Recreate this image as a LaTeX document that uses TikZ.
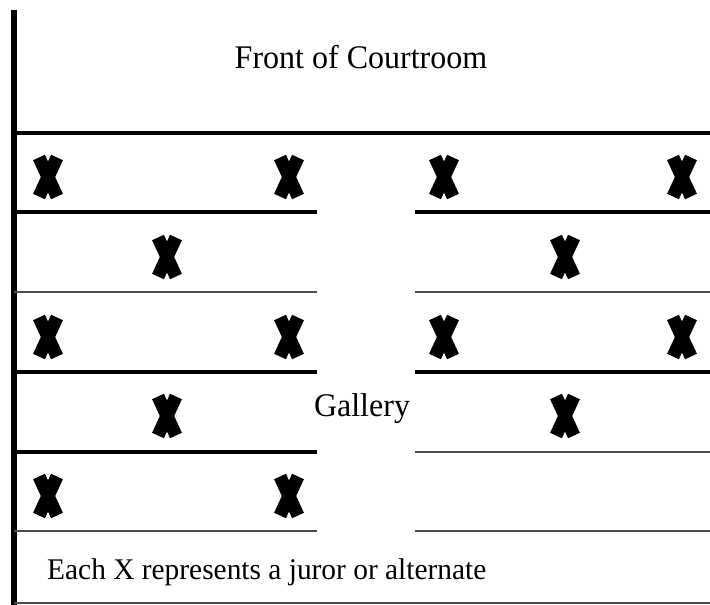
\documentclass[tikz,border=0pt]{standalone}
\usepackage{fontspec}
\setmainfont{Liberation Serif}
\usetikzlibrary{positioning}
\tikzset{wall/.style={line width=4pt},
  rail/.style={line width=1.6pt, black!70},
  juror/.style={minimum width=34pt, minimum height=50pt, inner sep=0pt,
    path picture={\draw[line width=13pt, shift={(path picture bounding box.center)}]
      (-9,-19.5) -- (9,19.5) (-9,19.5) -- (9,-19.5);}},
  label/.style={font=\fontsize{33}{40}\selectfont, inner sep=0pt, xscale=0.97},
  legend/.style={font=\fontsize{30}{36}\selectfont, inner sep=0pt, xscale=0.98}}

\begin{document}
\begin{tikzpicture}[x=1pt, y=-1pt]
            \useasboundingbox (0,0) rectangle (710,605);
            % walls
            \draw[line width=6pt] (14,10) -- (14,605);
            \draw[wall] (14,133) -- (710,133);
            \draw[wall] (14,212) -- (317,212);
            \draw[wall] (415,212) -- (710,212);
            \draw[rail] (14,292) -- (317,292);
            \draw[rail] (415,292) -- (710,292);
            \draw[wall] (14,372) -- (317,372);
            \draw[wall] (415,372) -- (710,372);
            \draw[wall] (14,452) -- (317,452);
            \draw[rail] (415,452) -- (710,452);
            \draw[rail] (14,531) -- (317,531);
            \draw[rail] (415,531) -- (710,531);
            \draw[rail] (14,603) -- (710,603);

            \node[label] (front) at (361,57) {Front of Courtroom};
            \node[label] (gallery) at (362,409) {Gallery};
            \node[legend, anchor=west] (note) at (47,572) {Each X represents a juror or alternate};

            % jurors
            \node[juror] (a1) at (48,177) {};
            \node[juror] (a2) at (289,177) {};
            \node[juror] (a3) at (444,177) {};
            \node[juror] (a4) at (682,177) {};
            \node[juror] (b1) at (167,257) {};
            \node[juror] (b2) at (565,257) {};
            \node[juror] (c1) at (48,337) {};
            \node[juror] (c2) at (289,337) {};
            \node[juror] (c3) at (444,337) {};
            \node[juror] (c4) at (682,337) {};
            \node[juror] (d1) at (167,416) {};
            \node[juror] (d2) at (565,416) {};
            \node[juror] (e1) at (48,496) {};
            \node[juror] (e2) at (289,496) {};
        \end{tikzpicture}
\end{document}
